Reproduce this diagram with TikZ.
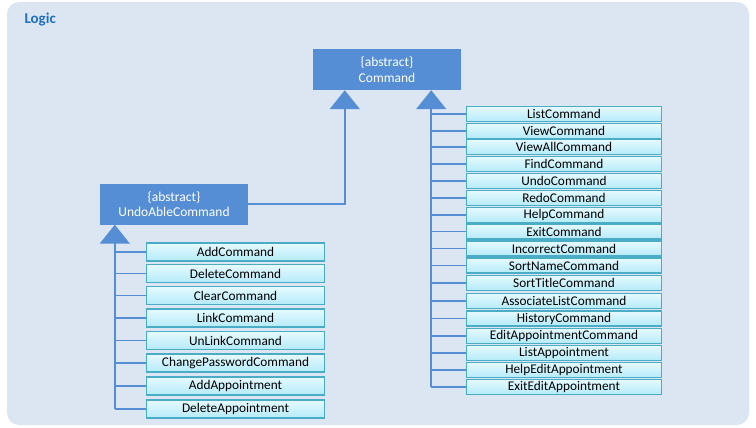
\documentclass[tikz,border=0pt]{standalone}
\usepackage{fontspec}
\setmainfont{Carlito}
\usetikzlibrary{arrows.meta,calc}
\definecolor{bgc}{HTML}{DCE6F2}
\definecolor{absc}{HTML}{558ED5}
\definecolor{linec}{HTML}{558ED5}
\definecolor{boxb}{HTML}{4BACC6}
\definecolor{boxt}{HTML}{E6FAFF}
\definecolor{boxbot}{HTML}{B4EAF8}
\definecolor{titlec}{HTML}{1F6FC0}
\begin{document}
\begin{tikzpicture}[x=1pt,y=-1pt,
  absbox/.style={fill=absc,draw=none,text=white,minimum width=148pt,minimum height=41pt,inner sep=0pt,align=center,font=\fontsize{13.5}{15.5}\selectfont},
  leftbox/.style={draw=boxb,line width=1.6pt,top color=boxt,bottom color=boxbot,minimum width=178pt,minimum height=18pt,inner sep=0pt,font=\fontsize{13.3}{14}\selectfont},
  rightbox/.style={draw=boxb,line width=1.6pt,top color=boxt,bottom color=boxbot,minimum width=195pt,minimum height=15pt,inner sep=0pt,font=\fontsize{13.3}{14}\selectfont},
  conn/.style={draw=linec,line width=1.6pt},
  inh/.style={conn,-{Triangle[width=30pt,length=19pt]}}]
\useasboundingbox (0,0) rectangle (756,428);
\fill[bgc,rounded corners=12pt] (7,2) rectangle (749,425);
\node[anchor=west,text=titlec,font=\fontsize{15}{17}\selectfont\bfseries] (title) at (21,20) {Logic};
\node[absbox] (cmd) at (387,69.5) {\{abstract\}\\Command};
\node[absbox] (undo) at (174,204) {\{abstract\}\\UndoAbleCommand};
\coordinate (cL) at ($(cmd.south west)+(32,0)$);
\coordinate (cR) at ($(cmd.south east)+(-30,0)$);
\coordinate (uT) at ($(undo.south west)+(15,0)$);
% left boxes
\foreach \n/\y/\t in {l1/252/AddCommand,l2/273.5/DeleteCommand,l3/295.5/ClearCommand,l4/318/LinkCommand,l5/340.5/UnLinkCommand,l6/363/ChangePasswordCommand,l7/386/AddAppointment,l8/409/DeleteAppointment}
  \node[leftbox] (\n) at (235.5,\y) {\t};
% right boxes
\foreach \n/\y/\t in {r1/114/ListCommand,r2/131/ViewCommand,r3/147/ViewAllCommand,r4/164/FindCommand,r5/181/UndoCommand,r6/198/RedoCommand,r7/215/HelpCommand,r8/231.5/ExitCommand,r9/248.5/IncorrectCommand,r10/265.5/SortNameCommand,r11/283/SortTitleCommand,r12/301/AssociateListCommand,r13/318.5/HistoryCommand,r14/336/EditAppointmentCommand,r15/353/ListAppointment,r16/370/HelpEditAppointment,r17/387/ExitEditAppointment}
  \node[rightbox] (\n) at (564,\y) {\t};
% connectors
\draw[inh] (undo.east) -| (cL);
\draw[inh] (uT |- l8.west) -- (uT);
\foreach \n in {l1,l2,l3,l4,l5,l6,l7,l8}
  \draw[conn] (uT |- \n.west) -- (\n.west);
\draw[inh] (cR |- r17.west) -- (cR);
\foreach \n in {r1,r2,r3,r4,r5,r6,r7,r8,r9,r10,r11,r12,r13,r14,r15,r16,r17}
  \draw[conn] (cR |- \n.west) -- (\n.west);
\end{tikzpicture}
\end{document}
